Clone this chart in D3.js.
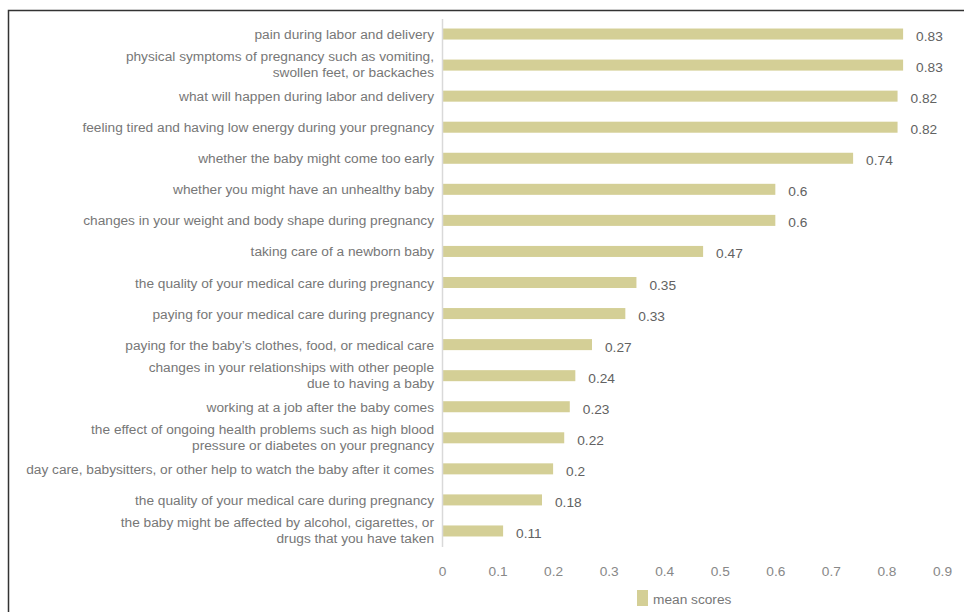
<!DOCTYPE html>
<html>
<head>
<meta charset="utf-8">
<script src="https://cdn.jsdelivr.net/npm/d3@7"></script>
<style>
  body { margin: 0; background: #fff; }
  text { font-family: "Liberation Sans", Arial, sans-serif; }
</style>
</head>
<body>
<div id="chart-area"></div>
<script>
// worries, top to bottom (multi-line labels split on '|')
const categories = [
  'pain during labor and delivery',
  'physical symptoms of pregnancy such as vomiting,|swollen feet, or backaches',
  'what will happen during labor and delivery',
  'feeling tired and having low energy during your pregnancy',
  'whether the baby might come too early',
  'whether you might have an unhealthy baby',
  'changes in your weight and body shape during pregnancy',
  'taking care of a newborn baby',
  'the quality of your medical care during pregnancy',
  'paying for your medical care during pregnancy',
  'paying for the baby\u2019s clothes, food, or medical care',
  'changes in your relationships with other people|due to having a baby',
  'working at a job after the baby comes',
  'the effect of ongoing health problems such as high blood|pressure or diabetes on your pregnancy',
  'day care, babysitters, or other help to watch the baby after it comes',
  'the quality of your medical care during pregnancy ',
  'the baby might be affected by alcohol, cigarettes, or|drugs that you have taken'
];
const meanScores = [0.83, 0.83, 0.82, 0.82, 0.74, 0.6, 0.6, 0.47, 0.35, 0.33, 0.27, 0.24, 0.23, 0.22, 0.2, 0.18, 0.11];
const xTicks = [0, 0.1, 0.2, 0.3, 0.4, 0.5, 0.6, 0.7, 0.8, 0.9];
const seriesName = 'mean scores';

const W = 964, H = 612;
const barColor = '#d4cf96';
const fs = '13.7px';

const svg = d3.select('#chart-area')
  .append('svg')
  .attr('width', W)
  .attr('height', H);

// outer frame (runs off the right/bottom edge)
svg.append('rect')
  .attr('x', 8.5).attr('y', 10.5)
  .attr('width', W + 20).attr('height', H + 20)
  .attr('fill', 'none')
  .attr('stroke', '#333')
  .attr('stroke-width', 1.5);

const data = categories.map((c, i) => ({ key: c, value: meanScores[i] }));

// scales
const x = d3.scaleLinear()
  .domain([0, 0.9])
  .range([442, 942]);
const y = d3.scaleBand()
  .domain(categories)
  .range([18.5, 546.5])
  .paddingInner(0.645)
  .paddingOuter(0.3225);

// bars
svg.selectAll('rect.bar')
  .data(data)
  .enter()
  .append('rect')
  .attr('class', 'bar')
  .attr('x', x(0))
  .attr('y', d => y(d.key))
  .attr('width', d => x(d.value) - x(0))
  .attr('height', y.bandwidth())
  .attr('fill', barColor);

// value labels
svg.selectAll('text.val')
  .data(data)
  .enter()
  .append('text')
  .attr('class', 'val')
  .attr('x', d => x(d.value) + 13)
  .attr('y', d => y(d.key) + y.bandwidth() / 2 + 7)
  .attr('font-size', fs)
  .attr('fill', '#626262')
  .text(d => d.value);

// category labels
const yAxis = d3.axisLeft(y).tickSize(0).tickPadding(8).tickFormat('');
const yg = svg.append('g')
  .attr('transform', `translate(${x(0)},0)`)
  .call(yAxis);
yg.select('.domain')
  .attr('stroke', '#d9d9d9')
  .attr('stroke-width', 1.5);
yg.selectAll('.tick').each(function (d) {
  const lines = d.split('|');
  const t = d3.select(this).select('text')
    .attr('x', -8)
    .attr('dy', null)
    .attr('y', lines.length > 1 ? -4 : 5)
    .attr('font-size', fs)
    .attr('fill', '#777')
    .attr('text-anchor', 'end');
  lines.forEach((ln, i) => {
    t.append('tspan')
      .attr('x', -8)
      .attr('dy', i === 0 ? 0 : 16)
      .text(ln.trim());
  });
});

// x axis (labels only)
const xAxis = d3.axisBottom(x).tickValues(xTicks).tickSize(0).tickPadding(0)
  .tickFormat(d => d3.format('')(+d.toFixed(1)));
const xg = svg.append('g')
  .attr('transform', 'translate(0,576)')
  .call(xAxis);
xg.select('.domain').remove();
xg.selectAll('text')
  .attr('dy', null)
  .attr('y', 0)
  .attr('font-size', fs)
  .attr('fill', '#888');

// legend
const lg = svg.append('g').attr('transform', 'translate(637,590)');
lg.append('rect')
  .attr('width', 11).attr('height', 16)
  .attr('fill', barColor);
lg.append('text')
  .attr('x', 16).attr('y', 14)
  .attr('font-size', fs)
  .attr('fill', '#777')
  .text(seriesName);
</script>
</body>
</html>
